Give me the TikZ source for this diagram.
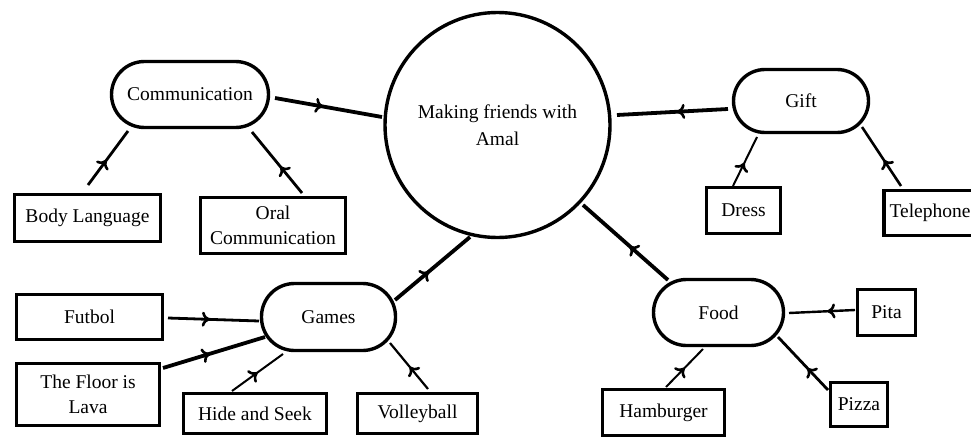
\documentclass[tikz,border=0pt]{standalone}
\usepackage{fontspec}
\setmainfont{Liberation Serif}
\usetikzlibrary{arrows.meta,decorations.markings}
\tikzset{
  txt/.style={font=\fontsize{19.5}{25}\selectfont, align=center, text=black},
  leaf/.style={txt, draw, rectangle, line width=3.4pt, inner sep=0pt},
  hub/.style={txt, draw, rectangle, line width=3.4pt, inner sep=0pt, rounded corners=#1},
  con/.style={line width=#1, draw=black},
  midarrow/.style={postaction={decorate}, decoration={markings, mark=at position #1 with {\arrow{To[length=8pt,width=15pt,line width=2.6pt]}}}}
}
\begin{document}
\begin{tikzpicture}[x=1pt,y=-1pt]
\useasboundingbox (0,0) rectangle (971,439);
\clip (0,0) rectangle (971,439);
\fill[white] (0,0) rectangle (971,439);
% central
\node[txt, draw, circle, line width=3.4pt, minimum size=225pt, inner sep=0pt, font=\fontsize{19.5}{27}\selectfont] (circ) at (497.5,125) {Making friends with\\Amal};
% hubs
\node[hub=33pt, minimum width=157pt, minimum height=66pt] (comm) at (190,94.5) {Communication};
\node[hub=31.5pt, minimum width=135pt, minimum height=63pt] (gift) at (801,101) {Gift};
\node[hub=33pt, minimum width=134pt, minimum height=67pt] (games) at (328.5,317) {Games};
\node[hub=33pt, minimum width=130pt, minimum height=66pt] (food) at (718.5,312.5) {Food};
% leaves
\node[leaf, minimum width=146pt, minimum height=47pt] (body) at (87.5,218) {Body Language};
\node[leaf, minimum width=145pt, minimum height=56pt] (oral) at (273,225.5) {Oral\\Communication};
\node[leaf, minimum width=74pt, minimum height=46pt] (dress) at (743.5,210.5) {Dress};
\node[leaf, minimum width=92pt, minimum height=45pt] (tel) at (930,213) {Telephone};
\node[leaf, minimum width=146pt, minimum height=45pt] (futbol) at (89.5,317) {Futbol};
\node[leaf, minimum width=143pt, minimum height=62pt] (floor) at (88,394.5) {The Floor is\\Lava};
\node[leaf, minimum width=143pt, minimum height=40pt] (hide) at (255,413.5) {Hide and Seek};
\node[leaf, minimum width=120pt, minimum height=40pt] (volley) at (417.5,413.5) {Volleyball};
\node[leaf, minimum width=58pt, minimum height=46pt] (pita) at (886.5,312.5) {Pita};
\node[leaf, minimum width=57pt, minimum height=44pt] (pizza) at (859,404.5) {Pizza};
\node[leaf, minimum width=122pt, minimum height=46pt] (hamb) at (663.5,412.5) {Hamburger};
% connectors
\draw[con=2.8pt, midarrow=0.46] ([shift={(0.5,-33)}]body.center) -- ([shift={(-62,36.5)}]comm.center);
\draw[con=2.8pt, midarrow=0.43] ([shift={(29,-32.5)}]oral.center) -- ([shift={(62,37.5)}]comm.center);
\draw[con=3.8pt, midarrow=0.45] ([shift={(85,3.5)}]comm.center) -- ([shift={(-115.5,-8)}]circ.center);
\draw[con=3.8pt, midarrow=0.46] ([shift={(-73,8)}]gift.center) -- ([shift={(119.5,-10)}]circ.center);
\draw[con=2pt, midarrow=0.47] ([shift={(-10.5,-24.5)}]dress.center) -- ([shift={(-44,36)}]gift.center);
\draw[con=2.6pt, midarrow=0.44] ([shift={(-29,-27)}]tel.center) -- ([shift={(61,26)}]gift.center);
\draw[con=2.8pt, midarrow=0.46] ([shift={(78.5,1)}]futbol.center) -- ([shift={(-69.5,4)}]games.center);
\draw[con=3.8pt, midarrow=0.46] ([shift={(75,-26.5)}]floor.center) -- ([shift={(-63.5,20)}]games.center);
\draw[con=2pt, midarrow=0.5] ([shift={(-23,-22.5)}]hide.center) -- ([shift={(-45.5,37)}]games.center);
\draw[con=2.2pt, midarrow=0.48] ([shift={(10.5,-24.5)}]volley.center) -- ([shift={(61.5,26)}]games.center);
\draw[con=3.8pt, midarrow=0.45] ([shift={(66.5,-17)}]games.center) -- ([shift={(-27.5,112)}]circ.center);
\draw[con=3.8pt, midarrow=0.45] ([shift={(-50.5,-32.5)}]food.center) -- ([shift={(85.5,80)}]circ.center);
\draw[con=2.4pt, midarrow=0.42] ([shift={(-31.5,-2.5)}]pita.center) -- ([shift={(70.5,0.5)}]food.center);
\draw[con=2.8pt, midarrow=0.41] ([shift={(-31,-14.5)}]pizza.center) -- ([shift={(59.5,24.5)}]food.center);
\draw[con=2pt, midarrow=0.5] ([shift={(2.5,-25.5)}]hamb.center) -- ([shift={(-15.5,36.5)}]food.center);
\end{tikzpicture}
\end{document}
